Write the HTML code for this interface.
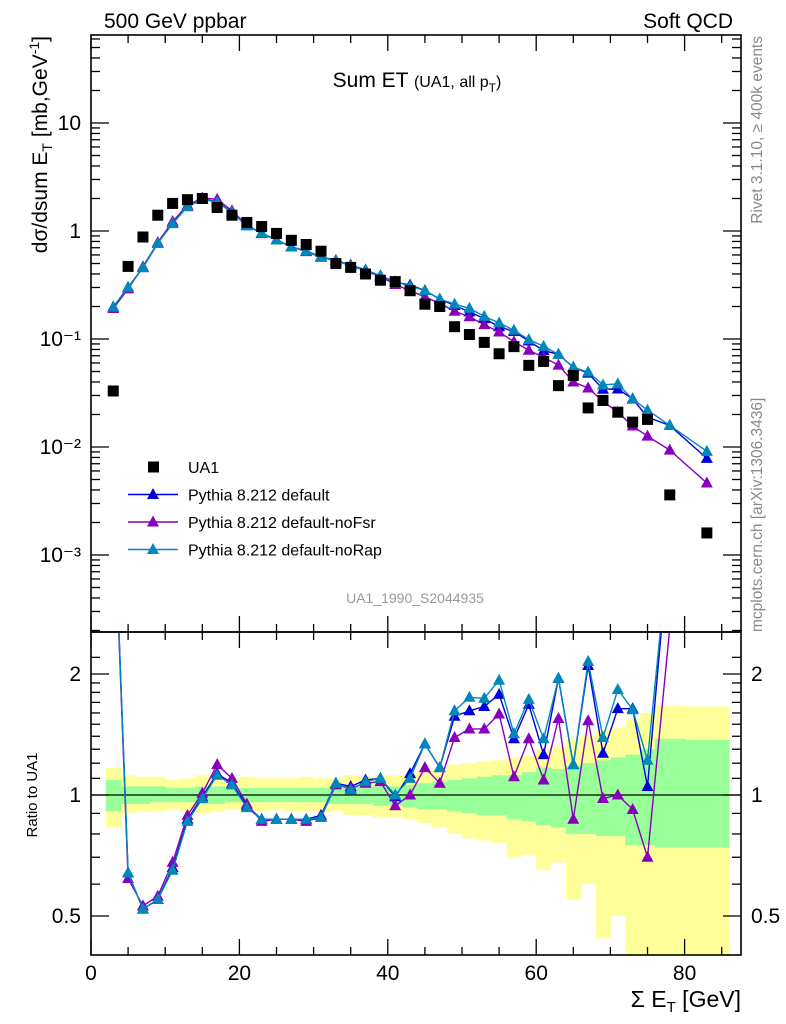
<!DOCTYPE html>
<html><head><meta charset="utf-8"><style>
html,body{margin:0;padding:0;background:#fff}
svg{display:block;font-family:"Liberation Sans",sans-serif}
</style></head><body>
<svg id="chart" width="786" height="1024" viewBox="0 0 786 1024" xmlns="http://www.w3.org/2000/svg">
<text x="104" y="28" font-size="21">500 GeV ppbar</text>
<text x="733" y="28" font-size="21" text-anchor="end">Soft QCD</text>
<text x="417" y="87" font-size="21" text-anchor="middle">Sum ET <tspan font-size="16">(UA1, all p</tspan><tspan font-size="12" dy="5">T</tspan><tspan font-size="16" dy="-5">)</tspan></text>
<text x="415" y="603" font-size="14" fill="#999" text-anchor="middle">UA1_1990_S2044935</text>
<text transform="translate(762,36) rotate(-90)" font-size="15.5" fill="#888" text-anchor="end">Rivet 3.1.10, ≥ 400k events</text>
<text transform="translate(762,632) rotate(-90)" font-size="15.5" fill="#888" text-anchor="start">mcplots.cern.ch [arXiv:1306.3436]</text>
<text transform="translate(47,36) rotate(-90)" font-size="21" text-anchor="end">dσ/dsum E<tspan font-size="14" dy="5">T</tspan><tspan dy="-5"> [mb,GeV</tspan><tspan font-size="14" dy="-8">-1</tspan><tspan dy="8">]</tspan></text>
<text transform="translate(37,795) rotate(-90)" font-size="15" text-anchor="middle">Ratio to UA1</text>
<text x="741" y="1007" font-size="23" text-anchor="end">Σ E<tspan font-size="15" dy="5">T</tspan><tspan dy="-5"> [GeV]</tspan></text>
<g id="g"></g>
</svg>
<script>
const xs=[3,5,7,9,11,13,15,17,19,21,23,25,27,29,31,33,35,37,39,41,43,45,47,49,51,53,55,57,59,61,63,65,67,69,71,73,75,78,83];
const binLo=[2,4,6,8,10,12,14,16,18,20,22,24,26,28,30,32,34,36,38,40,42,44,46,48,50,52,54,56,58,60,62,64,66,68,70,72,74,76,80];
const binHi=[4,6,8,10,12,14,16,18,20,22,24,26,28,30,32,34,36,38,40,42,44,46,48,50,52,54,56,58,60,62,64,66,68,70,72,74,76,80,86];
const dataVals=[0.033,0.47,0.88,1.4,1.8,1.95,2.0,1.65,1.4,1.2,1.1,0.95,0.82,0.75,0.65,0.5,0.46,0.4,0.35,0.34,0.28,0.21,0.2,0.13,0.11,0.093,0.073,0.085,0.057,0.062,0.037,0.046,0.023,0.027,0.021,0.017,0.018,0.0036,0.0016];
const ratioDefault=[6.0,0.64,0.52,0.55,0.66,0.87,0.99,1.13,1.07,0.94,0.87,0.87,0.87,0.87,0.89,1.07,1.05,1.09,1.10,0.99,1.13,1.34,1.17,1.57,1.62,1.66,1.78,1.38,1.68,1.26,1.95,1.19,2.1,1.27,1.64,1.64,1.05,4.4,4.9];
const ratioNoFsr=[5.8,0.62,0.53,0.56,0.68,0.89,1.01,1.19,1.10,0.95,0.86,0.87,0.87,0.86,0.88,1.06,1.04,1.07,1.08,0.94,1.0,1.17,1.07,1.39,1.46,1.46,1.59,1.11,1.38,1.09,1.55,0.87,1.53,0.98,1.0,0.92,0.70,2.6,2.9];
const ratioNoRap=[6.0,0.64,0.52,0.55,0.65,0.86,0.98,1.12,1.06,0.93,0.87,0.87,0.87,0.87,0.88,1.07,1.03,1.08,1.10,1.0,1.10,1.34,1.17,1.62,1.75,1.74,1.93,1.42,1.73,1.38,1.95,1.19,2.15,1.39,1.83,1.63,1.22,4.4,5.7];
const greenUp=[1.09,1.05,1.05,1.05,1.04,1.04,1.05,1.05,1.04,1.04,1.04,1.04,1.04,1.04,1.04,1.05,1.05,1.05,1.05,1.05,1.06,1.07,1.08,1.09,1.10,1.11,1.12,1.12,1.14,1.17,1.16,1.18,1.20,1.22,1.24,1.26,1.30,1.38,1.37];
const greenLo=[0.91,0.95,0.95,0.96,0.96,0.96,0.95,0.95,0.96,0.96,0.96,0.96,0.96,0.96,0.96,0.95,0.95,0.95,0.94,0.94,0.93,0.92,0.92,0.91,0.90,0.89,0.89,0.87,0.86,0.84,0.83,0.80,0.80,0.79,0.79,0.75,0.75,0.74,0.74];
const yellowUp=[1.17,1.12,1.11,1.11,1.09,1.10,1.12,1.11,1.10,1.11,1.10,1.10,1.10,1.11,1.10,1.10,1.12,1.11,1.12,1.12,1.13,1.15,1.16,1.19,1.20,1.21,1.22,1.24,1.25,1.30,1.32,1.38,1.40,1.45,1.47,1.55,1.60,1.67,1.66];
const yellowLo=[0.83,0.90,0.91,0.91,0.92,0.91,0.90,0.91,0.92,0.91,0.91,0.92,0.91,0.91,0.91,0.91,0.89,0.89,0.88,0.88,0.87,0.85,0.83,0.80,0.78,0.77,0.76,0.70,0.71,0.65,0.68,0.55,0.60,0.44,0.50,0.37,0.40,0.33,0.33];
const xTicks=[0,20,40,60,80];
const mainTicks=[0.001,0.01,0.1,1,10];
const mainTickLabels=["10⁻³","10⁻²","10⁻¹","1","10"];
const ratioTicks=[0.5,1,2];
const ratioTickLabels=["0.5","1","2"];

const L=91,R=741,T=35,M=632,B=955;
const X=v=>L+v*7.42;
const Y=v=>231-Math.log10(v)*108;
const YR=v=>795-Math.log2(v)*121;
const NS="http://www.w3.org/2000/svg";
const g=document.getElementById('g');
function mk(tag,attrs,parent){const e=document.createElementNS(NS,tag);for(const k in attrs)e.setAttribute(k,attrs[k]);(parent||g).appendChild(e);return e;}
const clipDefs=mk('defs',{});
const c1=mk('clipPath',{id:'cm'},clipDefs);mk('rect',{x:L,y:T,width:R-L,height:M-T},c1);
const c2=mk('clipPath',{id:'cr'},clipDefs);mk('rect',{x:L,y:M,width:R-L,height:B-M},c2);

const bands=mk('g',{'clip-path':'url(#cr)'});


xs.forEach((x,i)=>{
  const r=mk('rect',{x:X(binLo[i]),y:YR(yellowUp[i]),width:X(binHi[i])-X(binLo[i])+0.5,height:YR(yellowLo[i])-YR(yellowUp[i]),fill:'#ffff99'},bands);
  
  
});
xs.forEach((x,i)=>{
  const r=mk('rect',{x:X(binLo[i]),y:YR(greenUp[i]),width:X(binHi[i])-X(binLo[i])+0.5,height:YR(greenLo[i])-YR(greenUp[i]),fill:'#99ff99'},bands);
  
  
});
const one=mk('line',{x1:L,x2:R,y1:YR(1),y2:YR(1),stroke:'#000','stroke-width':1.3});



function tri(cx,cy,col,parent,name){
  const p=mk('path',{d:`M${cx},${cy-6.5}L${cx+6},${cy+4.5}L${cx-6},${cy+4.5}Z`,fill:col},parent);
  
  
}
const series=[
  {name:'pythia-default',col:'#0000dd',r:ratioDefault},
  {name:'pythia-nofsr',col:'#8800bb',r:ratioNoFsr},
  {name:'pythia-norap',col:'#0088bb',r:ratioNoRap}];
const mg=mk('g',{'clip-path':'url(#cm)'});


series.forEach(s=>{
  const pts=xs.map((x,i)=>X(x)+','+Y(dataVals[i]*s.r[i])).join(' ');
  const pl=mk('polyline',{points:pts,fill:'none',stroke:s.col,'stroke-width':1.4},mg);
  
  
  xs.forEach((x,i)=>tri(X(x),Y(dataVals[i]*s.r[i]),s.col,mg,s.name+'-point'));
});
xs.forEach((x,i)=>{
  const r=mk('rect',{x:X(x)-5.5,y:Y(dataVals[i])-5.5,width:11,height:11,fill:'#000'},mg);
  
  
});
const rg=mk('g',{'clip-path':'url(#cr)'});


series.forEach(s=>{
  const pts=xs.map((x,i)=>X(x)+','+YR(s.r[i])).join(' ');
  const pl=mk('polyline',{points:pts,fill:'none',stroke:s.col,'stroke-width':1.4},rg);
  
  
  xs.forEach((x,i)=>tri(X(x),YR(s.r[i]),s.col,rg,s.name+'-ratio-point'));
});

const ax=mk('g',{stroke:'#000','stroke-width':1.3,fill:'none'});


mk('rect',{x:L,y:T,width:R-L,height:M-T,'stroke-width':1.6},ax);
mk('rect',{x:L,y:M,width:R-L,height:B-M,'stroke-width':1.6},ax);
for(let v=0;v<=87;v+=5){
  const big=v%20===0,len=big?16:8;
  [[T,1],[M,-1],[M,1],[B,-1]].forEach(([y0,d])=>mk('line',{x1:X(v),x2:X(v),y1:y0,y2:y0+d*len},ax));
}
for(let e=-4;e<=1;e++)for(let m=1;m<10;m++){
  const v=m*Math.pow(10,e),y=Y(v);if(y<T||y>M)continue;
  const len=m===1?18:9;
  mk('line',{x1:L,x2:L+len,y1:y,y2:y},ax);mk('line',{x1:R,x2:R-len,y1:y,y2:y},ax);
}
[0.5,0.6,0.7,0.8,0.9,1,1.1,1.2,1.3,1.4,1.5,1.6,1.7,1.8,1.9,2,2.2].forEach(v=>{
  const y=YR(v);if(y<M||y>B)return;
  const len=ratioTicks.includes(v)?18:9;
  mk('line',{x1:L,x2:L+len,y1:y,y2:y},ax);mk('line',{x1:R,x2:R-len,y1:y,y2:y},ax);
});
xTicks.forEach(v=>{
  const t=mk('text',{x:X(v),y:980,'font-size':21,'text-anchor':'middle'});t.textContent=v;
  
  
});
mainTicks.forEach((v,i)=>{
  const t=mk('text',{x:81,y:Y(v)+7,'font-size':21,'text-anchor':'end'});t.textContent=mainTickLabels[i];
  
  
});
ratioTicks.forEach((v,i)=>{
  const t=mk('text',{x:81,y:YR(v)+7,'font-size':21,'text-anchor':'end'});t.textContent=ratioTickLabels[i];
  
  
  const t2=mk('text',{x:751,y:YR(v)+7,'font-size':21});t2.textContent=ratioTickLabels[i];
  
  
});
const lg=mk('g',{});


const le=[['UA1',null],['Pythia 8.212 default','#0000dd'],['Pythia 8.212 default-noFsr','#8800bb'],['Pythia 8.212 default-noRap','#0088bb']];
le.forEach((e,i)=>{
  const y=467+i*27.5;
  const eg=mk('g',{},lg);
  
  
  if(e[1]===null){mk('rect',{x:148,y:y-5.5,width:11,height:11,fill:'#000'},eg);}
  else{mk('line',{x1:128,x2:178,y1:y,y2:y,stroke:e[1],'stroke-width':1.4},eg);tri(153,y,e[1],eg,'legend-marker');}
  const t=mk('text',{x:188,y:y+6,'font-size':16},eg);t.textContent=e[0];
});
</script>
</body></html>
